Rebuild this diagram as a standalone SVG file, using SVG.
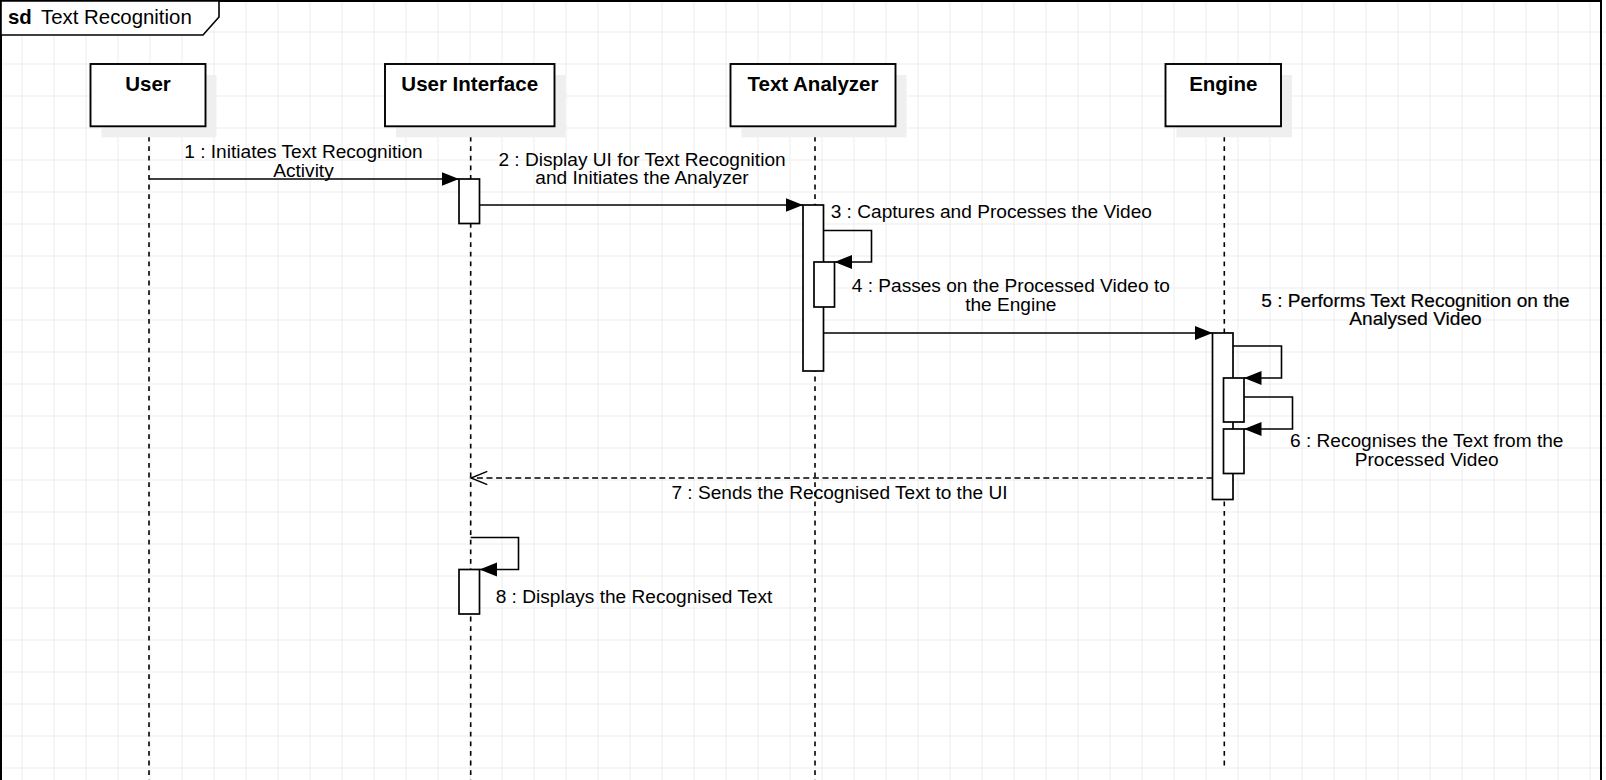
<svg xmlns="http://www.w3.org/2000/svg" width="1606" height="780" viewBox="0 0 1606 780">
<style>
text{font-family:"Liberation Sans",Arial,sans-serif;fill:#000}
.hd{font-size:20.5px;font-weight:bold;text-anchor:middle}
.m{font-size:19.1px}
.c{text-anchor:middle}
.grid line{stroke:#ededed;stroke-width:1}
.box{fill:#fff;stroke:#000;stroke-width:1.9}
.shadow{fill:#efefef;stroke:none}
.life{stroke:#000;stroke-width:1.6;stroke-dasharray:4.8 4.8;fill:none}
.act{fill:#fff;stroke:#000;stroke-width:1.7}
.msg{fill:none;stroke:#000;stroke-width:1.6}
.ret{fill:none;stroke:#000;stroke-width:1.4;stroke-dasharray:6 3.6}
</style>
<defs>
<marker id="filled" markerUnits="userSpaceOnUse" markerWidth="19" markerHeight="15" refX="17.5" refY="7.5" orient="auto">
<path d="M0,0.5 L17.5,7.5 L0,14.5 z" fill="#000"/>
</marker>
<marker id="open" markerUnits="userSpaceOnUse" markerWidth="20" markerHeight="18" refX="18" refY="8" orient="auto">
<path d="M1.7,1.3 L18,8 L1.7,14.7" fill="none" stroke="#000" stroke-width="1.4"/>
</marker>
</defs>
<rect x="0" y="0" width="1606" height="780" fill="#fff"/>
<g class="grid">
<line x1="22" y1="0" x2="22" y2="780"/><line x1="54" y1="0" x2="54" y2="780"/><line x1="86" y1="0" x2="86" y2="780"/><line x1="118" y1="0" x2="118" y2="780"/><line x1="150" y1="0" x2="150" y2="780"/><line x1="182" y1="0" x2="182" y2="780"/><line x1="214" y1="0" x2="214" y2="780"/><line x1="246" y1="0" x2="246" y2="780"/><line x1="278" y1="0" x2="278" y2="780"/><line x1="310" y1="0" x2="310" y2="780"/><line x1="342" y1="0" x2="342" y2="780"/><line x1="374" y1="0" x2="374" y2="780"/><line x1="406" y1="0" x2="406" y2="780"/><line x1="438" y1="0" x2="438" y2="780"/><line x1="470" y1="0" x2="470" y2="780"/><line x1="502" y1="0" x2="502" y2="780"/><line x1="534" y1="0" x2="534" y2="780"/><line x1="566" y1="0" x2="566" y2="780"/><line x1="598" y1="0" x2="598" y2="780"/><line x1="630" y1="0" x2="630" y2="780"/><line x1="662" y1="0" x2="662" y2="780"/><line x1="694" y1="0" x2="694" y2="780"/><line x1="726" y1="0" x2="726" y2="780"/><line x1="758" y1="0" x2="758" y2="780"/><line x1="790" y1="0" x2="790" y2="780"/><line x1="822" y1="0" x2="822" y2="780"/><line x1="854" y1="0" x2="854" y2="780"/><line x1="886" y1="0" x2="886" y2="780"/><line x1="918" y1="0" x2="918" y2="780"/><line x1="950" y1="0" x2="950" y2="780"/><line x1="982" y1="0" x2="982" y2="780"/><line x1="1014" y1="0" x2="1014" y2="780"/><line x1="1046" y1="0" x2="1046" y2="780"/><line x1="1078" y1="0" x2="1078" y2="780"/><line x1="1110" y1="0" x2="1110" y2="780"/><line x1="1142" y1="0" x2="1142" y2="780"/><line x1="1174" y1="0" x2="1174" y2="780"/><line x1="1206" y1="0" x2="1206" y2="780"/><line x1="1238" y1="0" x2="1238" y2="780"/><line x1="1270" y1="0" x2="1270" y2="780"/><line x1="1302" y1="0" x2="1302" y2="780"/><line x1="1334" y1="0" x2="1334" y2="780"/><line x1="1366" y1="0" x2="1366" y2="780"/><line x1="1398" y1="0" x2="1398" y2="780"/><line x1="1430" y1="0" x2="1430" y2="780"/><line x1="1462" y1="0" x2="1462" y2="780"/><line x1="1494" y1="0" x2="1494" y2="780"/><line x1="1526" y1="0" x2="1526" y2="780"/><line x1="1558" y1="0" x2="1558" y2="780"/><line x1="1590" y1="0" x2="1590" y2="780"/>
<line x1="0" y1="32" x2="1606" y2="32"/><line x1="0" y1="64" x2="1606" y2="64"/><line x1="0" y1="96" x2="1606" y2="96"/><line x1="0" y1="128" x2="1606" y2="128"/><line x1="0" y1="160" x2="1606" y2="160"/><line x1="0" y1="192" x2="1606" y2="192"/><line x1="0" y1="224" x2="1606" y2="224"/><line x1="0" y1="256" x2="1606" y2="256"/><line x1="0" y1="288" x2="1606" y2="288"/><line x1="0" y1="320" x2="1606" y2="320"/><line x1="0" y1="352" x2="1606" y2="352"/><line x1="0" y1="384" x2="1606" y2="384"/><line x1="0" y1="416" x2="1606" y2="416"/><line x1="0" y1="448" x2="1606" y2="448"/><line x1="0" y1="480" x2="1606" y2="480"/><line x1="0" y1="512" x2="1606" y2="512"/><line x1="0" y1="544" x2="1606" y2="544"/><line x1="0" y1="576" x2="1606" y2="576"/><line x1="0" y1="608" x2="1606" y2="608"/><line x1="0" y1="640" x2="1606" y2="640"/><line x1="0" y1="672" x2="1606" y2="672"/><line x1="0" y1="704" x2="1606" y2="704"/><line x1="0" y1="736" x2="1606" y2="736"/><line x1="0" y1="768" x2="1606" y2="768"/>
</g>
<g id="frame">
<rect x="1" y="1" width="1600" height="820" fill="none" stroke="#000" stroke-width="2"/>
<path d="M1,1 H219 V17 L203,35 H1 Z" fill="#fff" stroke="#000" stroke-width="1.6"/>
<text x="8" y="23.5" style="font-size:20.4px;font-weight:bold">sd</text>
<text x="41" y="23.5" style="font-size:20.4px">Text Recognition</text>
</g>
<g id="lifelines">
<line class="life" x1="149" y1="127" x2="149" y2="780"/>
<line class="life" x1="470.7" y1="127" x2="470.7" y2="780"/>
<line class="life" x1="815" y1="127" x2="815" y2="780"/>
<line class="life" x1="1224.3" y1="127" x2="1224.3" y2="766"/>
</g>
<g id="user">
<rect class="shadow" x="101.5" y="75" width="115" height="62.3"/>
<rect class="box" x="90.5" y="64" width="115" height="62.3"/>
<text class="hd" x="148" y="91">User</text>
</g>
<g id="user-interface">
<rect class="shadow" x="396" y="75" width="169.5" height="62.3"/>
<rect class="box" x="385" y="64" width="169.5" height="62.3"/>
<text class="hd" x="469.7" y="91">User Interface</text>
</g>
<g id="text-analyzer">
<rect class="shadow" x="741.5" y="75" width="165" height="62.3"/>
<rect class="box" x="730.5" y="64" width="165" height="62.3"/>
<text class="hd" x="813" y="91">Text Analyzer</text>
</g>
<g id="engine">
<rect class="shadow" x="1176.5" y="75" width="115.5" height="62.3"/>
<rect class="box" x="1165.5" y="64" width="115.5" height="62.3"/>
<text class="hd" x="1223.3" y="91">Engine</text>
</g>
<g id="activations">
<rect class="act" x="459" y="179" width="20.5" height="44.5"/>
<rect class="act" x="803" y="205" width="20.5" height="166"/>
<rect class="act" x="814" y="262" width="20.5" height="45"/>
<rect class="act" x="1212.5" y="333" width="20.5" height="166.5"/>
<rect class="act" x="1223.5" y="378" width="20.5" height="44"/>
<rect class="act" x="1223.5" y="429" width="20.5" height="44.5"/>
<rect class="act" x="459" y="569.5" width="20.5" height="44.5"/>
</g>
<g id="connectors">
<path class="msg" d="M149,179 H459" marker-end="url(#filled)"/>
<path class="msg" d="M479.5,205 H803" marker-end="url(#filled)"/>
<path class="msg" d="M823.5,230.5 H871.5 V262 H834.5" marker-end="url(#filled)"/>
<path class="msg" d="M823.5,333 H1212.5" marker-end="url(#filled)"/>
<path class="msg" d="M1233,346 H1281.5 V378 H1244" marker-end="url(#filled)"/>
<path class="msg" d="M1244,397 H1292.5 V429 H1244" marker-end="url(#filled)"/>
<path class="ret" d="M1212.5,478 H471" marker-end="url(#open)"/>
<path class="msg" d="M470.7,537.5 H518.5 V569.5 H479.5" marker-end="url(#filled)"/>
</g>
<g id="labels">
<text class="m c" x="303.5" y="158.3">1 : Initiates Text Recognition</text>
<text class="m c" x="303.5" y="176.7">Activity</text>
<text class="m c" x="642" y="166">2 : Display UI for Text Recognition</text>
<text class="m c" x="642" y="184.4">and Initiates the Analyzer</text>
<text class="m" x="830.7" y="218.3">3 : Captures and Processes the Video</text>
<text class="m c" x="1010.8" y="292.3">4 : Passes on the Processed Video to</text>
<text class="m c" x="1010.8" y="310.7">the Engine</text>
<text class="m c" x="1415.5" y="306.7" stroke="#000" stroke-width="0.2">5 : Performs Text Recognition on the</text>
<text class="m c" x="1415.5" y="325" stroke="#000" stroke-width="0.2">Analysed Video</text>
<text class="m c" x="1426.7" y="446.7">6 : Recognises the Text from the</text>
<text class="m c" x="1426.7" y="465.5">Processed Video</text>
<text class="m c" x="839.5" y="499">7 : Sends the Recognised Text to the UI</text>
<text class="m" x="495.7" y="602.7">8 : Displays the Recognised Text</text>
</g>
</svg>
